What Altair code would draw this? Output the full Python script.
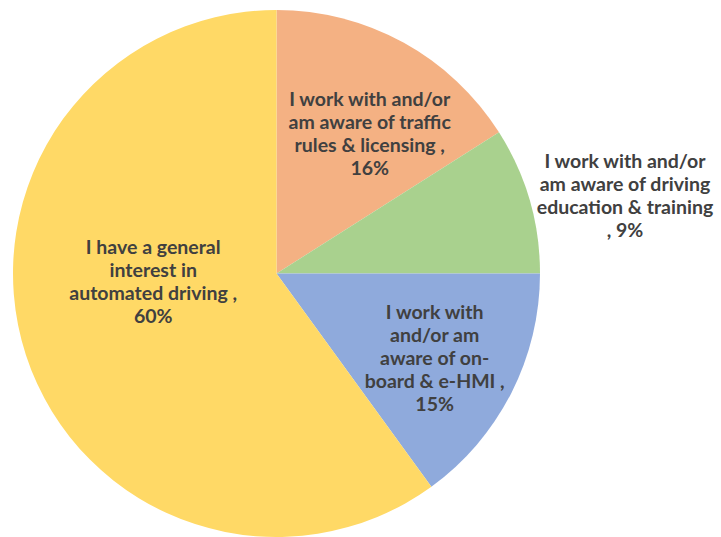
import altair as alt
import pandas as pd

categories = [
    "I work with and/or am aware of traffic rules & licensing",
    "I work with and/or am aware of driving education & training",
    "I work with and/or am aware of on-board & e-HMI",
    "I have a general interest in automated driving",
]
label_lines = [
    "I work with and/or\nam aware of traffic\nrules & licensing ,\n16%",
    "I work with and/or\nam aware of driving\neducation & training\n, 9%",
    "I work with\nand/or am\naware of on-\nboard & e-HMI ,\n15%",
    "I have a general\ninterest in\nautomated driving ,\n60%",
]
values = [16, 9, 15, 60]
colors = ["#F4B183", "#A9D18E", "#8FAADC", "#FFD966"]

df = pd.DataFrame({
    "idx": list(range(len(categories))),
    "category": categories,
    "label": label_lines,
    "value": values,
})

CX, CY, R = 276.5, 273.5, 263.5
# label placement tweaks for the first text line (angle offset in radians, radius in px)
ang_off = "[-0.01, -0.028, -0.227, 0.522]"
lab_rad = "[197, 366, 163, 126]"

base = alt.Chart(df)

arcs = base.mark_arc(radius=R, stroke=None).encode(
    theta=alt.Theta("value:Q", stack=True),
    order=alt.Order("idx:O"),
    color=alt.Color("category:N", scale=alt.Scale(domain=categories, range=colors), legend=None),
    x=alt.value(CX),
    y=alt.value(CY),
)

texts = base.transform_joinaggregate(
    total="sum(value)"
).transform_window(
    cum="sum(value)", sort=[alt.SortField("idx")], frame=[None, 0]
).transform_calculate(
    ang=f"(datum.cum - datum.value/2) / datum.total * 2 * PI + {ang_off}[datum.idx]",
    rad=f"{lab_rad}[datum.idx]",
).mark_text(
    font="Lato", fontWeight="bold", fontSize=19.5, color="#404040",
    lineBreak="\n", lineHeight=23, align="center", baseline="middle",
).encode(
    theta=alt.Theta("ang:Q", scale=None),
    radius=alt.Radius("rad:Q", scale=None),
    text="label:N",
    x=alt.value(CX),
    y=alt.value(CY),
)

chart = alt.layer(arcs, texts).properties(
    width=721, height=537, autosize=alt.AutoSizeParams(type="none"), padding=0,
).configure_view(stroke=None)

chart.save("out.html", embed_options={"renderer": "svg", "actions": False})
